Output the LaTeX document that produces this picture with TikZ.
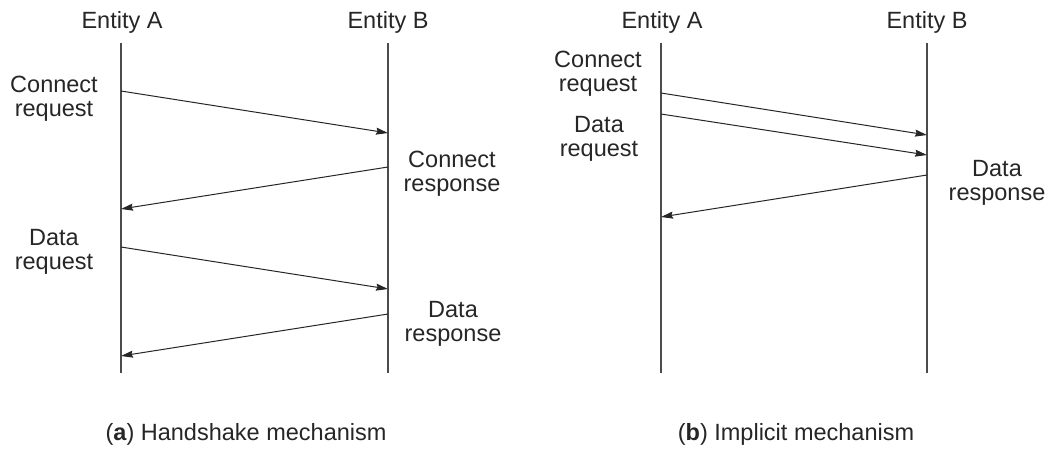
\documentclass[tikz,border=0pt]{standalone}
\usepackage{fontspec}
\setmainfont{Liberation Sans}
\usetikzlibrary{arrows.meta}
\newcommand{\twolines}[2]{{\setlength{\tabcolsep}{0pt}\begin{tabular}[t]{c}#1\\#2\end{tabular}}}
\begin{document}
\begin{tikzpicture}[x=1pt,y=-1pt,
  lifeline/.style={draw=black!70,line width=1.3pt},
  msg/.style={draw=black!85,line width=1pt,-{Stealth[length=12pt,width=7pt,inset=1.5pt]}},
  lbl/.style={inner sep=0pt,anchor=base,font=\fontsize{23.5}{24}\selectfont},
  every node/.style={text=black!85}]
\useasboundingbox (0,0) rectangle (1049,451);
% ---------- (a) ----------
\coordinate (aAt) at (121,43);  \coordinate (aAb) at (121,373);
\coordinate (aBt) at (388,43);  \coordinate (aBb) at (388,373);
\draw[lifeline] (aAt) -- (aAb);
\draw[lifeline] (aBt) -- (aBb);
\node[lbl] (aEA) at (122,28) {Entity A};
\node[lbl] (aEB) at (388,28) {Entity B};
\coordinate (a1s) at (121,91);  \coordinate (a1e) at (388,133);
\coordinate (a2s) at (388,167); \coordinate (a2e) at (121,209);
\coordinate (a3s) at (121,247); \coordinate (a3e) at (388,289);
\coordinate (a4s) at (388,314); \coordinate (a4e) at (121,356);
\draw[msg] (a1s) -- (a1e);
\draw[msg] (a2s) -- (a2e);
\draw[msg] (a3s) -- (a3e);
\draw[msg] (a4s) -- (a4e);
\node[lbl] (aL1) at (54,92)  {\twolines{Connect}{request}};
\node[lbl] (aL2) at (452,167) {\twolines{Connect}{response}};
\node[lbl] (aL3) at (54,245) {\twolines{Data}{request}};
\node[lbl] (aL4) at (453,317) {\twolines{Data}{response}};
\node[lbl] (capA) at (246,440) {(\textbf{a}) Handshake mechanism};
% ---------- (b) ----------
\coordinate (bAt) at (661,43);  \coordinate (bAb) at (661,373);
\coordinate (bBt) at (927,43);  \coordinate (bBb) at (927,373);
\draw[lifeline] (bAt) -- (bAb);
\draw[lifeline] (bBt) -- (bBb);
\node[lbl] (bEA) at (662,28) {Entity A};
\node[lbl] (bEB) at (927,28) {Entity B};
\coordinate (b1s) at (661,93);  \coordinate (b1e) at (927,135);
\coordinate (b2s) at (661,114); \coordinate (b2e) at (927,155);
\coordinate (b3s) at (927,175); \coordinate (b3e) at (661,217);
\draw[msg] (b1s) -- (b1e);
\draw[msg] (b2s) -- (b2e);
\draw[msg] (b3s) -- (b3e);
\node[lbl] (bL1) at (598,67)  {\twolines{Connect}{request}};
\node[lbl] (bL2) at (599,132) {\twolines{Data}{request}};
\node[lbl] (bL3) at (997,176) {\twolines{Data}{response}};
\node[lbl] (capB) at (796,440) {(\textbf{b}) Implicit mechanism};
\end{tikzpicture}
\end{document}
